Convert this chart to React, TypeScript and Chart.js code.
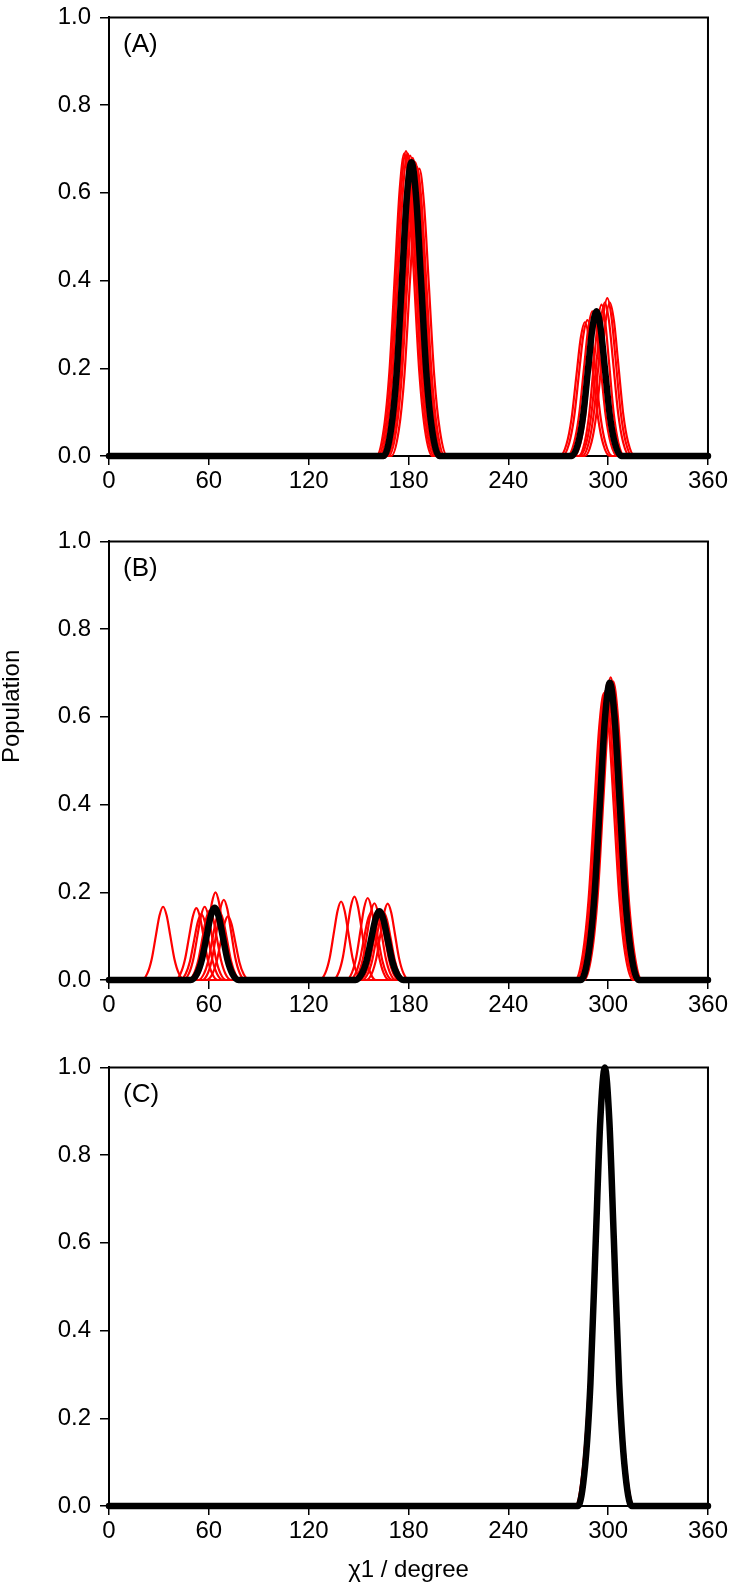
import React, { useEffect, useRef } from "react";
import { Chart, registerables } from "chart.js";

Chart.register(...registerables);

// ---------- axis / text data ----------
const X_MIN = 0;
const X_MAX = 360;
const X_TICKS = [0, 60, 120, 180, 240, 300, 360];
const Y_TICKS = [0, 0.2, 0.4, 0.6, 0.8, 1.0];
const PANEL_LABELS = ["(A)", "(B)", "(C)"];
const Y_TITLE = "Population";
const X_TITLE = "χ1 / degree";

// Shape of one population peak: offsets (in peak widths) and relative heights
const PEAK_DX = [-3, -2.2, -1.6, -1, -0.5, 0, 0.5, 1, 1.6, 2.2, 3];
const PEAK_DY = [0, 0.09, 0.28, 0.61, 0.88, 1, 0.88, 0.61, 0.28, 0.09, 0];

type Peak = [number, number, number]; // [centre (deg), height, width (deg)]

// ---------- Panel A ----------
const A_RED: Peak[][] = [
  [[177.5, 0.69, 5.6], [286, 0.305, 5]],
  [[178.5, 0.695, 5.6], [287.5, 0.31, 5]],
  [[179.5, 0.69, 5.6], [290.5, 0.33, 5]],
  [[181, 0.685, 5.6], [293.5, 0.33, 4.6]],
  [[182.5, 0.68, 5.6], [296, 0.345, 4.6]],
  [[184, 0.67, 5.6], [298, 0.35, 5]],
  [[185, 0.66, 5.6], [299.5, 0.36, 5]],
  [[186.5, 0.655, 5.6], [301, 0.35, 5]],
];
const A_BLACK: Peak[] = [[181.8, 0.67, 5.6], [293, 0.33, 5]];

// ---------- Panel B ----------
const B_RED: Peak[][] = [
  [[32.5, 0.167, 4.3], [139.5, 0.179, 4.3], [297.5, 0.654, 5.8]],
  [[52.5, 0.164, 4.3], [147.5, 0.19, 4.3], [298.5, 0.66, 5.8]],
  [[55.5, 0.15, 4.3], [155.5, 0.187, 4.3], [299.5, 0.663, 5.8]],
  [[57.5, 0.167, 4.3], [157.5, 0.153, 4.3], [300, 0.68, 5.8]],
  [[60.5, 0.158, 4.3], [159.5, 0.175, 4.3], [300.5, 0.667, 5.8]],
  [[64, 0.2, 4.3], [161.5, 0.16, 4.3], [301, 0.655, 5.8]],
  [[66.5, 0.155, 4.3], [163.5, 0.15, 4.3], [301.5, 0.69, 5.8]],
  [[69, 0.183, 4.3], [165, 0.155, 4.3], [302, 0.662, 5.8]],
  [[71.5, 0.145, 4.3], [167.5, 0.174, 4.3], [303, 0.681, 5.8]],
];
const B_BLACK: Peak[] = [[63.5, 0.165, 4.8], [162.5, 0.157, 4.8], [301, 0.678, 5.8]];

// ---------- Panel C ----------
const C_RED: Peak[][] = [
  [[297.6, 0.995, 5.6]],
  [[297.8, 1.0, 5.8]],
  [[298, 0.998, 5.5]],
  [[298.2, 1.0, 5.7]],
  [[298.4, 0.997, 5.6]],
  [[297.9, 0.999, 5.9]],
  [[298.1, 0.996, 5.5]],
];
const C_BLACK: Peak[] = [[298, 1.0, 5.4]];

const FONT = '"Liberation Sans", Arial, Helvetica, sans-serif';

function curvePoints(peaks: Peak[]) {
  const pts: { x: number; y: number }[] = [{ x: X_MIN, y: 0 }];
  for (const [c, h, w] of peaks) {
    PEAK_DX.forEach((d, i) => pts.push({ x: c + d * w, y: h * PEAK_DY[i] }));
  }
  pts.push({ x: X_MAX, y: 0 });
  return pts;
}

const panelPlugin = {
  id: "panelText",
  beforeDatasetsDraw(chart: any) {
    const { ctx, chartArea: ca } = chart;
    ctx.save();
    ctx.strokeStyle = "#000";
    ctx.lineWidth = 2;
    ctx.beginPath();
    ctx.moveTo(ca.left, ca.top);
    ctx.lineTo(ca.right, ca.top);
    ctx.lineTo(ca.right, ca.bottom);
    ctx.stroke();
    ctx.restore();
  },
  afterDraw(chart: any, _args: any, opts: any) {
    const { ctx, chartArea: ca } = chart;
    ctx.save();
    ctx.fillStyle = "#000";
    ctx.textBaseline = "middle";
    ctx.font = `26px ${FONT}`;
    ctx.textAlign = "left";
    ctx.fillText(opts.label, ca.left + 14, ca.top + 27);
    ctx.font = `24px ${FONT}`;
    if (opts.yTitle) {
      ctx.save();
      ctx.translate(12, ca.top + 165);
      ctx.rotate(-Math.PI / 2);
      ctx.textAlign = "center";
      ctx.fillText(opts.yTitle, 0, 0);
      ctx.restore();
    }
    if (opts.xTitle) {
      ctx.textAlign = "center";
      ctx.fillText(opts.xTitle, (ca.left + ca.right) / 2, ca.bottom + 64);
    }
    ctx.restore();
  },
};

type PanelProps = {
  top: number;
  height: number;
  xAxisHeight: number;
  red: Peak[][];
  black: Peak[];
  label: string;
  yTitle?: string;
  xTitle?: string;
};

function Panel({ top, height, xAxisHeight, red, black, label, yTitle, xTitle }: PanelProps) {
  const ref = useRef<HTMLCanvasElement>(null);
  useEffect(() => {
    if (!ref.current) return;
    const datasets: any[] = [
      {
        data: curvePoints(black),
        borderColor: "#000000",
        borderWidth: 6.5,
        borderJoinStyle: "round",
        borderCapStyle: "round",
        pointRadius: 0,
        fill: false,
        cubicInterpolationMode: "monotone",
        clip: 8,
      },
      ...red.map((c) => ({
        data: curvePoints(c),
        borderColor: "#ff0000",
        borderWidth: 2.2,
        pointRadius: 0,
        fill: false,
        cubicInterpolationMode: "monotone",
        clip: 8,
      })),
    ];
    const tickGrid = {
      display: true,
      drawOnChartArea: false,
      drawTicks: true,
      tickLength: 9,
      color: "#000",
      lineWidth: 1.5,
    };
    const chart = new Chart(ref.current, {
      type: "line",
      data: { datasets },
      plugins: [panelPlugin as any],
      options: {
        animation: false,
        responsive: false,
        maintainAspectRatio: false,
        devicePixelRatio: 1,
        layout: { padding: { top: 16, right: 21, left: 0, bottom: 0 } },
        plugins: {
          legend: { display: false },
          tooltip: { enabled: false },
          panelText: { label, yTitle, xTitle },
        } as any,
        scales: {
          x: {
            type: "linear",
            min: X_MIN,
            max: X_MAX,
            afterBuildTicks: (axis: any) => {
              axis.ticks = X_TICKS.map((v) => ({ value: v }));
            },
            afterFit: (axis: any) => {
              axis.height = xAxisHeight;
            },
            grid: tickGrid,
            border: { display: true, color: "#000", width: 2 },
            ticks: {
              color: "#000",
              font: { family: FONT, size: 24 },
              padding: 2,
              maxRotation: 0,
              autoSkip: false,
            },
          },
          y: {
            type: "linear",
            min: 0,
            max: 1,
            afterBuildTicks: (axis: any) => {
              axis.ticks = Y_TICKS.map((v) => ({ value: v }));
            },
            afterFit: (axis: any) => {
              axis.width = 109;
            },
            grid: tickGrid,
            border: { display: true, color: "#000", width: 2 },
            ticks: {
              color: "#000",
              font: { family: FONT, size: 24 },
              padding: 9,
              callback: (v: any) => Number(v).toFixed(1),
            },
          },
        },
      } as any,
    });
    return () => chart.destroy();
  }, []);
  return (
    <canvas
      ref={ref}
      width={730}
      height={height}
      style={{ position: "absolute", left: 0, top, width: 730, height, display: "block" }}
    />
  );
}

export default function App() {
  return (
    <div
      style={{
        position: "absolute",
        left: 0,
        top: 0,
        width: 730,
        height: 1584,
        overflow: "hidden",
        background: "#fff",
      }}
    >
      <Panel top={-6} height={528} xAxisHeight={66} red={A_RED} black={A_BLACK} label={PANEL_LABELS[0]} />
      <Panel
        top={518}
        height={528}
        xAxisHeight={66}
        red={B_RED}
        black={B_BLACK}
        label={PANEL_LABELS[1]}
        yTitle={Y_TITLE}
      />
      <Panel
        top={1044}
        height={540}
        xAxisHeight={78}
        red={C_RED}
        black={C_BLACK}
        label={PANEL_LABELS[2]}
        xTitle={X_TITLE}
      />
    </div>
  );
}
